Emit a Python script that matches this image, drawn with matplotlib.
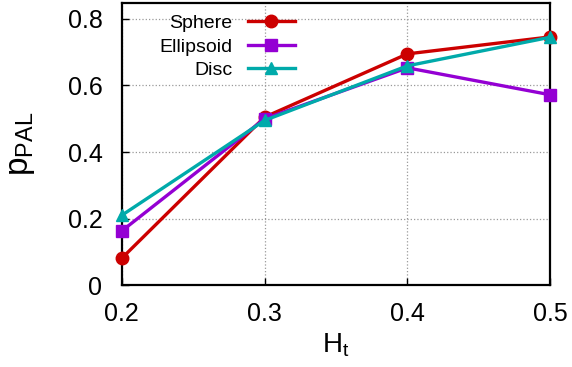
import numpy as np
import matplotlib.pyplot as plt

plt.rcParams['font.family'] = ['Liberation Sans', 'DejaVu Sans']

ht = [0.2, 0.3, 0.4, 0.5]
sphere = [0.081, 0.505, 0.695, 0.746]
ellipsoid = [0.163, 0.500, 0.653, 0.572]
disc = [0.210, 0.495, 0.659, 0.745]

fig, ax = plt.subplots(figsize=(5.72, 3.67), dpi=100)
fig.subplots_adjust(left=0.213, right=0.962, top=0.992, bottom=0.223)

ax.plot(ht, sphere, color='#cc0000', marker='o', ms=9, lw=2.4, label='Sphere', clip_on=False, zorder=3)
ax.plot(ht, ellipsoid, color='#9400d3', marker='s', ms=8, lw=2.4, label='Ellipsoid', clip_on=False, zorder=3)
ax.plot(ht, disc, color='#00aaaa', marker='^', ms=9, lw=2.4, label='Disc', clip_on=False, zorder=3)

ax.set_xlim(0.2, 0.5)
ax.set_ylim(0, 0.848)
ax.set_xticks([0.2, 0.3, 0.4, 0.5])
ax.set_xticklabels(['0.2', '0.3', '0.4', '0.5'])
ax.set_yticks([0, 0.2, 0.4, 0.6, 0.8])
ax.set_yticklabels(['0', '0.2', '0.4', '0.6', '0.8'])
ax.tick_params(direction='in', labelsize=18, length=5, width=1)
ax.tick_params(axis='x', pad=12)
ax.tick_params(axis='y', pad=14)
ax.grid(True, linestyle=':', color='#999999', lw=0.9)
for s in ax.spines.values():
    s.set_linewidth(1.6)

ax.set_xlabel('H$_\\mathregular{t}$', fontsize=20, labelpad=4)
ax.set_ylabel('p$_\\mathregular{PAL}$', fontsize=24, labelpad=22)

leg = ax.legend(loc='upper left', markerfirst=False, frameon=False, fontsize=14,
                handlelength=2.4, labelspacing=0.3, borderaxespad=0.2,
                bbox_to_anchor=(0.06, 1.0))
for t in leg.get_texts():
    t.set_ha('right')

fig.savefig('out.png')
